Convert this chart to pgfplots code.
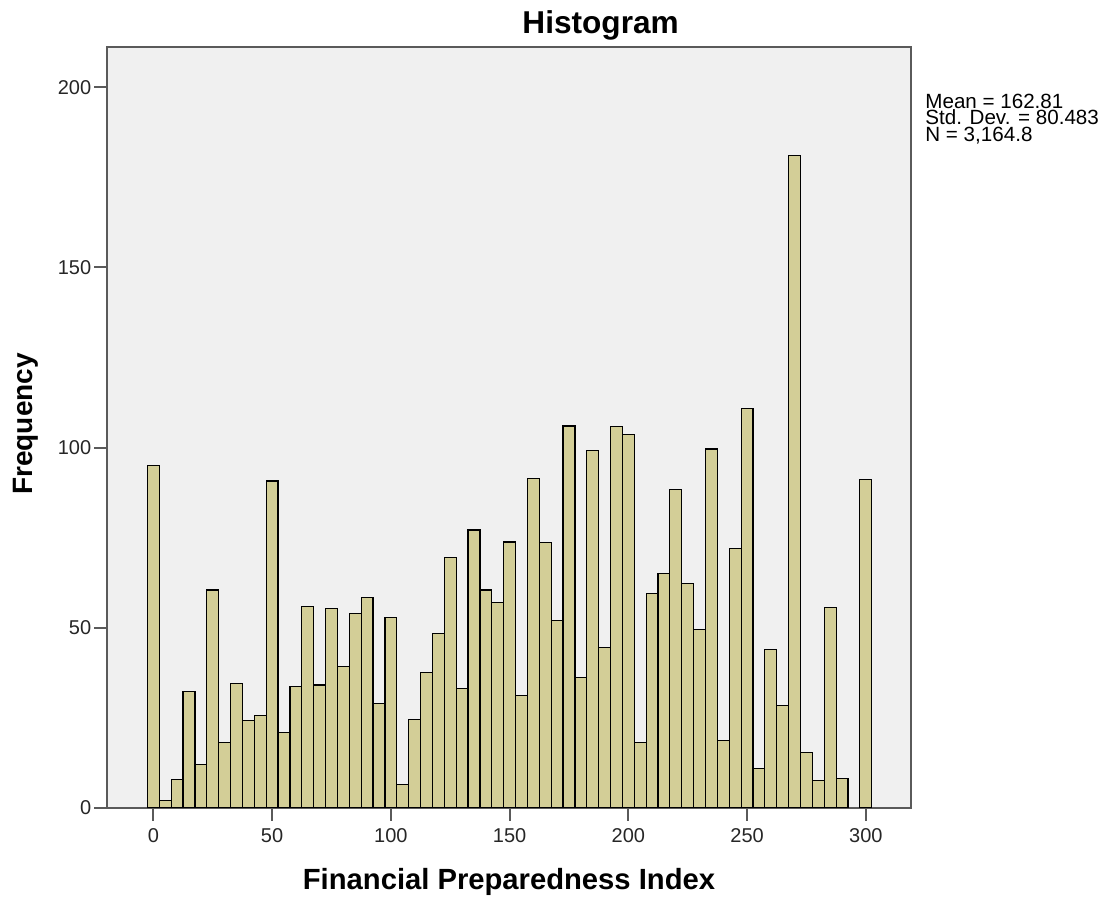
\documentclass[border=0pt]{standalone}
\usepackage{fontspec}
\setmainfont{Liberation Sans}
\usepackage{pgfplots}
\pgfplotsset{compat=1.18}

\definecolor{barfill}{RGB}{211,206,151}
\definecolor{plotbg}{RGB}{240,240,240}
\definecolor{framegray}{RGB}{90,90,90}

\begin{document}
\begin{tikzpicture}
% page is 1105 x 898 px, 1 px = 0.5pt
\useasboundingbox (0,0) rectangle (552.5pt,449pt);
\begin{axis}[
    at={(53.65pt,45pt)}, anchor=south west,
    scale only axis, width=401.7pt, height=380.25pt,
    xmin=-19.4, xmax=318.9, ymin=0, ymax=211,
    enlargelimits=false,
    axis background/.style={fill=plotbg},
    axis line style={framegray, line width=1pt},
    tick style={framegray, line width=1pt},
    tick align=outside, tick pos=left,
    major tick length=6.5pt,
    xtick={0,50,...,300}, ytick={0,50,...,200},
    /pgf/number format/assume math mode=true,
    ticklabel style={font=\fontsize{10}{12}\selectfont, text=black!85},
    yticklabel style={inner sep=0pt, xshift=-1.35pt},
    every axis title shift=0pt,
    title={Histogram},
    title style={font=\bfseries\fontsize{15.8}{18}\selectfont,
        at={(axis description cs:0.614,1.0187)}, anchor=base},
    xlabel={Financial Preparedness Index},
    xlabel style={font=\bfseries\fontsize{14.6}{17}\selectfont,
        at={(axis description cs:0.5,-0.1078)}, anchor=base},
    ylabel={Frequency},
    ylabel style={font=\bfseries\fontsize{14}{17}\selectfont,
        at={(axis description cs:-0.0925,0.505)}, anchor=base, rotate=0},
    ybar, bar width=5, bar shift=0pt,
]
\addplot[fill=barfill, draw=black, line width=0.6pt] coordinates {
    (0,95) (5,2) (10,8) (15,32.4) (20,12) (25,60.5) (30,18.2) (35,34.6) (40,24.3) (45,25.6)
    (50,90.7) (55,21) (60,33.8) (65,55.9) (70,34.1) (75,55.4) (80,39.3) (85,54) (90,58.5) (95,29.1)
    (100,52.9) (105,6.5) (110,24.5) (115,37.7) (120,48.4) (125,69.4) (130,33.1) (135,77.1) (140,60.5) (145,57.1)
    (150,73.8) (155,31.3) (160,91.4) (165,73.7) (170,52) (175,106) (180,36.3) (185,99.1) (190,44.5) (195,105.8)
    (200,103.6) (205,18.2) (210,59.5) (215,65) (220,88.3) (225,62.3) (230,49.5) (235,99.6) (240,18.7) (245,72.1)
    (250,110.9) (255,10.9) (260,44) (265,28.5) (270,181) (275,15.5) (280,7.7) (285,55.6) (290,8.2)
    (300,91.2)
};
\end{axis}
% summary statistics, right of the plot
\begin{scope}[every node/.style={anchor=base west, inner sep=0pt, font=\fontsize{10.3}{12}\selectfont}]
\node at (462.5pt,394.85pt) {Mean = 162.81};
\node at (462.5pt,386.5pt) {Std. Dev. = 80.483};
\node at (462.5pt,378.25pt) {N = 3,164.8};
\end{scope}
\end{tikzpicture}
\end{document}
